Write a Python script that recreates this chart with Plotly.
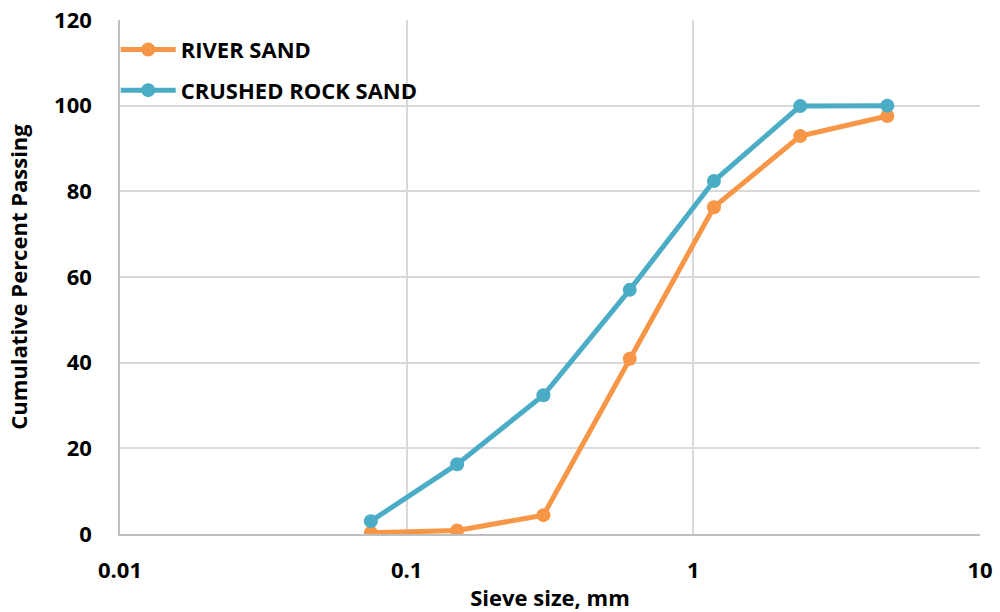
import plotly.graph_objects as go

sieve_mm = [0.075, 0.15, 0.3, 0.6, 1.18, 2.36, 4.75]
river_sand = [0.3, 0.8, 4.4, 40.9, 76.3, 92.9, 97.6]
crushed_rock_sand = [3.0, 16.3, 32.4, 57.0, 82.4, 99.9, 100.0]
x_ticks = [0.01, 0.1, 1, 10]
x_tick_labels = ["0.01", "0.1", "1", "10"]
y_ticks = [0, 20, 40, 60, 80, 100, 120]

FONT = "Open Sans"
FS = 22
fig = go.Figure()
fig.add_trace(go.Scatter(x=sieve_mm, y=river_sand, mode="lines+markers", name="RIVER SAND",
                         legendgroup="a",
                         line=dict(color="#F79646", width=5), marker=dict(size=14, color="#F79646")))
fig.add_trace(go.Scatter(x=sieve_mm, y=crushed_rock_sand, mode="lines+markers", name="CRUSHED ROCK SAND",
                         legendgroup="b",
                         line=dict(color="#4BACC6", width=5), marker=dict(size=14, color="#4BACC6")))

fig.update_layout(
    width=1000, height=612,
    margin=dict(l=120, r=20, t=20, b=78),
    paper_bgcolor="white", plot_bgcolor="white",
    font=dict(family=FONT, size=FS, color="#000000", weight="bold"),
    legend=dict(x=-0.005, y=0.983, xanchor="left", yanchor="top", bgcolor="rgba(0,0,0,0)",
                font=dict(size=FS, family=FONT, weight="bold"), tracegroupgap=9, itemwidth=55),
    showlegend=True,
)
fig.update_xaxes(type="log", range=[-2, 1], tickvals=x_ticks, ticktext=x_tick_labels,
                 showgrid=True, gridcolor="#d9d9d9", gridwidth=1.5,
                 showline=True, linecolor="#bfbfbf", linewidth=1.5, mirror=False,
                 ticks="", ticklabelstandoff=16, zeroline=False, automargin=False,
                 title=dict(text="Sieve size, mm", font=dict(size=FS, family=FONT, weight="bold"), standoff=10))
fig.update_yaxes(range=[0, 120], tickvals=y_ticks,
                 showgrid=True, gridcolor="#d9d9d9", gridwidth=1.5,
                 showline=True, linecolor="#bfbfbf", linewidth=1.5,
                 ticks="", ticklabelstandoff=22, zeroline=False, automargin=False,
                 title=dict(text="Cumulative Percent Passing", font=dict(size=FS, family=FONT, weight="bold"), standoff=20))
fig.write_html("out.html")
